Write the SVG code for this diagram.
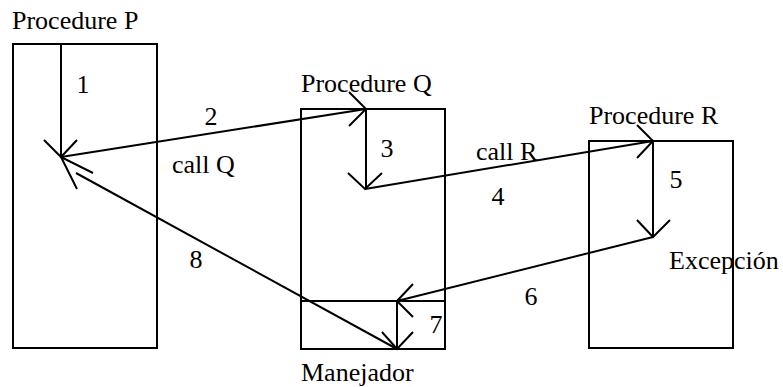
<svg xmlns="http://www.w3.org/2000/svg" width="783" height="387" viewBox="0 0 783 387">
<style>
.box{fill:none;stroke:#000;stroke-width:2}
.ln{fill:none;stroke:#000;stroke-width:2;stroke-linecap:butt}
text{font-family:"Liberation Serif","Times New Roman",serif;font-size:26px;fill:#000}
.m{text-anchor:middle}
</style>
<rect width="783" height="387" fill="#fff"/>
<g id="procP">
<rect class="box" x="13" y="44" width="144" height="304"/>
<text x="12" y="29">Procedure P</text>
</g>
<g id="procQ">
<rect class="box" x="301" y="109" width="144" height="240"/>
<line class="box" x1="301" y1="301" x2="445" y2="301"/>
<text x="301" y="92">Procedure Q</text>
</g>
<g id="manejador">
<text x="301" y="381">Manejador</text>
</g>
<g id="procR">
<rect class="box" x="589" y="141" width="144" height="207"/>
<text x="589" y="124">Procedure R</text>
<text x="669" y="269">Excepción</text>
</g>
<g id="connectors">
<!-- 1 -->
<path class="ln" d="M61 44V157M44 140L61 157L77 140"/>
<text class="m" x="83" y="93">1</text>
<!-- 2 -->
<path class="ln" d="M61 157L366 109M349 92L366 109L349 126"/>
<text class="m" x="211" y="125">2</text>
<text x="172" y="173">call Q</text>
<!-- 3 -->
<path class="ln" d="M366 109V189M348 173L365 189L382 173"/>
<text class="m" x="387" y="157">3</text>
<!-- 4 -->
<path class="ln" d="M365 189L653 141M637 125L653 141L637 158"/>
<text x="476" y="160">call R</text>
<text class="m" x="498" y="205">4</text>
<!-- 5 -->
<path class="ln" d="M653 141V237M637 220L653 237L670 220"/>
<text class="m" x="676" y="188">5</text>
<!-- 6 -->
<path class="ln" d="M653 237L397 301M413 284L397 301L413 317"/>
<text class="m" x="531" y="305">6</text>
<!-- 7 -->
<path class="ln" d="M397 301V349M382 332L397 349L413 332"/>
<text class="m" x="436" y="333">7</text>
<!-- 8 -->
<path class="ln" d="M397 349L76 173M93 173L61 157L77 189"/>
<text class="m" x="196" y="268">8</text>
</g>
</svg>
